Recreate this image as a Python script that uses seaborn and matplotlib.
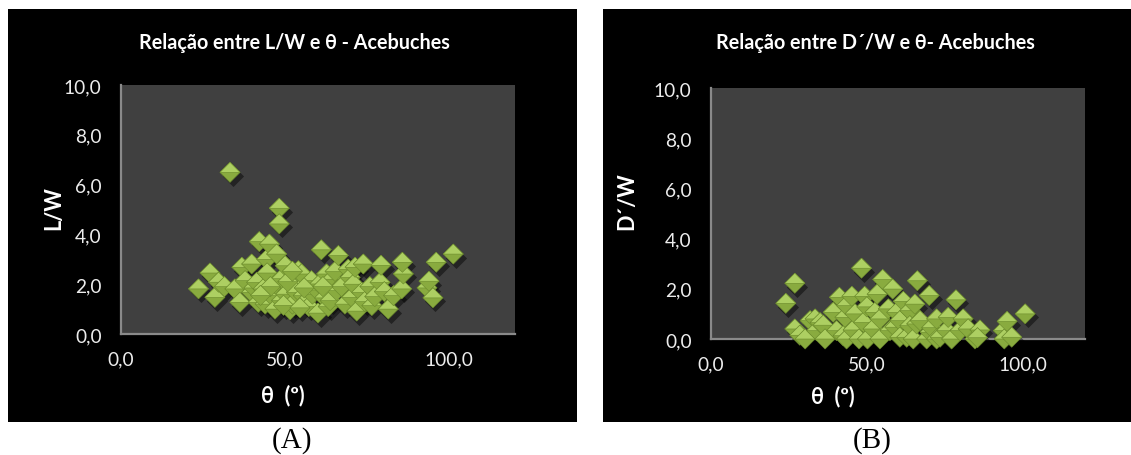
import numpy as np
import pandas as pd
import matplotlib
matplotlib.use("Agg")
import matplotlib.pyplot as plt
import matplotlib.transforms as mtransforms
from matplotlib.path import Path
from matplotlib.patches import Rectangle
from matplotlib.ticker import FuncFormatter, FixedLocator
import seaborn as sns

# ---- data -----------------------------------------------------------------
theta_a = [23.6, 27.1, 28.6, 29.7, 31.5, 33.2, 34.7, 36.2, 36.8, 37.8,
           39.8, 39.8, 40.5, 41.3, 41.8, 42.1, 43.3, 43.9, 44.4, 44.5,
           45.2, 45.9, 46.9, 47.0, 47.4, 48.2, 48.2, 48.9, 48.9, 50.0,
           50.2, 51.5, 52.2, 53.0, 53.4, 54.0, 55.0, 55.5, 56.3, 57.2,
           58.0, 58.3, 59.6, 60.0, 60.5, 61.0, 62.0, 62.6, 63.1, 63.7,
           64.3, 65.2, 65.7, 66.2, 67.2, 68.2, 69.2, 69.8, 70.3, 70.8,
           71.3, 71.8, 73.3, 73.8, 74.2, 75.8, 76.4, 77.3, 78.9, 79.2,
           80.2, 81.4, 83.0, 85.5, 86.0, 85.7, 93.2, 93.8, 95.0, 96.0,
           101.2, 45.5, 50.8, 52.2, 55.8, 42.5, 49.5, 61.5, 54.5]
lw_a = [1.81, 2.45, 1.47, 2.08, 1.90, 6.49, 1.81, 1.27, 2.68, 2.14,
        2.81, 1.67, 1.85, 2.07, 1.27, 3.71, 1.81, 1.20, 3.00, 2.45,
        3.61, 1.54, 1.00, 2.00, 3.21, 5.05, 4.42, 2.22, 1.34, 2.74,
        1.60, 0.97, 1.20, 1.94, 1.67, 2.54, 2.41, 1.54, 1.30, 1.10,
        2.14, 1.60, 1.77, 0.84, 2.01, 3.38, 1.45, 2.41, 1.10, 1.34,
        2.20, 2.51, 1.74, 3.15, 1.90, 1.20, 2.60, 2.27, 1.47, 2.00,
        2.68, 0.92, 1.67, 2.81, 1.30, 1.90, 1.14, 1.50, 2.07, 2.76,
        1.70, 1.00, 1.54, 1.81, 2.41, 2.88, 1.85, 2.12, 1.45, 2.88,
        3.21, 1.90, 2.10, 2.52, 1.85, 1.55, 1.15, 1.90, 1.05]

theta_b = [24.0, 26.9, 26.9, 28.5, 30.2, 31.8, 33.4, 33.9, 35.0, 36.0,
           36.6, 39.2, 40.3, 41.2, 42.4, 43.0, 43.5, 43.5, 45.2, 45.6,
           46.2, 47.5, 48.3, 48.9, 49.3, 50.0, 50.2, 52.0, 52.6, 53.3,
           54.2, 54.2, 55.1, 56.9, 57.4, 58.3, 59.0, 59.6, 60.6, 60.6,
           61.7, 62.8, 63.8, 63.8, 64.9, 65.4, 66.2, 66.0, 67.1, 69.2,
           70.0, 70.3, 70.8, 72.4, 72.4, 73.5, 75.6, 76.1, 77.2, 78.6,
           79.9, 80.9, 82.5, 84.7, 86.3, 85.5, 93.8, 94.1, 95.0, 96.5,
           100.8]
dw_b = [1.42, 2.22, 0.40, 0.15, 0.00, 0.73, 0.80, 0.33, 0.65, 0.55,
        0.00, 1.06, 0.33, 1.66, 0.13, 0.86, 1.33, 0.00, 1.70, 0.36,
        1.00, 0.00, 2.82, 0.66, 1.70, 1.28, 0.00, 0.40, 1.06, 1.78,
        0.80, 0.00, 2.37, 1.20, 0.33, 1.99, 0.47, 1.06, 0.73, 0.07,
        1.50, 0.07, 1.13, 0.53, 0.00, 1.39, 2.32, 0.60, 0.73, 0.00,
        1.73, 0.27, 0.45, 0.80, 0.00, 0.07, 0.33, 0.86, 0.00, 1.56,
        0.33, 0.80, 0.40, 0.00, 0.36, 0.05, 0.33, 0.00, 0.70, 0.07,
        1.00]

x_ticks = [0, 50, 100]
y_ticks = [0, 2, 4, 6, 8, 10]

titles = ["Relação entre L/W e θ - Acebuches",
          "Relação entre D´/W e θ- Acebuches"]
y_labels = ["L/W", "D´/W"]
x_label = "θ  (º)"
panel_tags = ["(A)", "(B)"]

# ---- style ----------------------------------------------------------------
sns.set_theme(style="white")
plt.rcParams['font.family'] = ['Lato', 'Open Sans', 'DejaVu Sans']

W, H = 1131, 456
fig = plt.figure(figsize=(W / 100, H / 100), dpi=100, facecolor="white")


def fx(px):
    return px / W


def fy(py):
    return 1 - py / H


# black chart areas
for left, right in [(8, 577), (603, 1131)]:
    fig.add_artist(Rectangle((fx(left), fy(423)), fx(right - left), 413 / H,
                             transform=fig.transFigure, facecolor="black",
                             edgecolor="none", zorder=-5))

# bevelled diamond marker: full diamond (darker lower facets) + lighter upper half
diamond = Path([(0, 1), (1, 0), (0, -1), (-1, 0), (0, 1)],
               [Path.MOVETO, Path.LINETO, Path.LINETO, Path.LINETO, Path.CLOSEPOLY])
upper = Path([(-1, 0), (0, 1), (1, 0), (-1, 0)],
             [Path.MOVETO, Path.LINETO, Path.LINETO, Path.CLOSEPOLY])

fmt = FuncFormatter(lambda v, p: f"{v:.1f}".replace(".", ","))

panels = [
    dict(x=theta_a, y=lw_a, box=(121, 515, 86, 335), title_x=294,
         ylab=(-0.171, 0.51), xlab=(0.41, -0.241), tag_x=292),
    dict(x=theta_b, y=dw_b, box=(711, 1085, 89, 340), title_x=875,
         ylab=(-0.2246, 0.554), xlab=(0.326, -0.227), tag_x=872),
]

MS = 210
for i, pnl in enumerate(panels):
    l, r, t, b = pnl["box"]
    ax = fig.add_axes([fx(l), fy(b), fx(r - l), (b - t) / H])
    ax.set_facecolor("#404040")

    xs = np.asarray(pnl["x"], dtype=float)
    ys = np.asarray(pnl["y"], dtype=float)

    # soft drop shadow under the markers
    sns.scatterplot(x=xs, y=ys, marker=diamond, s=MS * 1.1, color="black",
                    alpha=0.45, linewidth=0, legend=False, ax=ax,
                    zorder=3, clip_on=False)
    shadow = ax.collections[-1]
    shadow.set_offset_transform(
        ax.transData + mtransforms.ScaledTranslation(2.5 / 100, -3.5 / 100,
                                                     fig.dpi_scale_trans))

    # each point as base + highlight drawn consecutively
    n = len(xs)
    df = pd.DataFrame({
        "theta": np.repeat(xs, 2),
        "ratio": np.repeat(ys, 2),
        "facet": ["base", "top"] * n,
    })
    sns.scatterplot(data=df, x="theta", y="ratio", hue="facet", style="facet",
                    palette={"base": "#89ab3f", "top": "#adcf62"},
                    markers={"base": diamond, "top": upper},
                    s=MS, edgecolor="#6a8a2b", linewidth=0.4,
                    legend=False, ax=ax, zorder=4, clip_on=False)

    ax.set_xlim(0, 120)
    ax.set_ylim(0, 10)
    ax.xaxis.set_major_locator(FixedLocator(x_ticks))
    ax.yaxis.set_major_locator(FixedLocator(y_ticks))
    ax.xaxis.set_major_formatter(fmt)
    ax.yaxis.set_major_formatter(fmt)
    ax.tick_params(axis="both", length=0, labelsize=13.8, labelcolor="#ececec")
    ax.tick_params(axis="x", pad=12)
    ax.tick_params(axis="y", pad=14)

    for side in ["top", "right"]:
        ax.spines[side].set_visible(False)
    for side in ["left", "bottom"]:
        ax.spines[side].set_color("#8a8a8a")
        ax.spines[side].set_linewidth(1.6)
        ax.spines[side].set_zorder(2)

    ax.set_xlabel(x_label, fontsize=15.5, fontweight="bold", color="white")
    ax.set_ylabel(y_labels[i], fontsize=15.5, fontweight="bold", color="white")
    ax.xaxis.set_label_coords(*pnl["xlab"])
    ax.yaxis.set_label_coords(*pnl["ylab"])
    ax.xaxis.label.set_va("center")
    ax.yaxis.label.set_va("center")

    fig.text(fx(pnl["title_x"]), fy(43), titles[i], ha="center", va="center",
             fontsize=14.2, fontweight="bold", color="white")
    fig.text(fx(pnl["tag_x"]), fy(441), panel_tags[i], ha="center", va="center",
             fontsize=21, color="black", family=["Liberation Serif", "DejaVu Serif"])

fig.savefig("out.png", dpi=100, facecolor=fig.get_facecolor())
